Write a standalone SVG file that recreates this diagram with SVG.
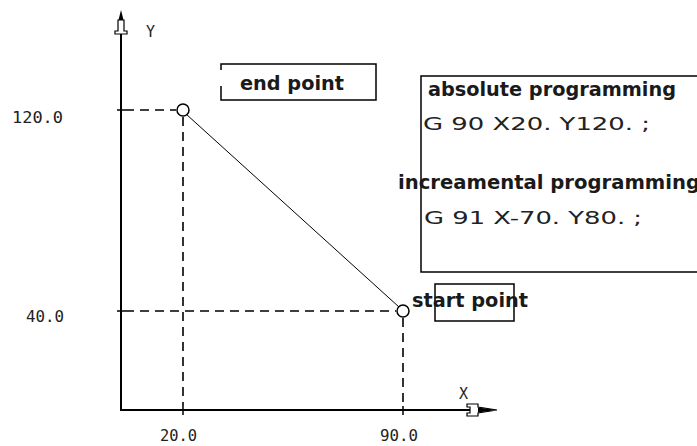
<svg xmlns="http://www.w3.org/2000/svg" width="697" height="446" viewBox="0 0 697 446">
<style>
.ax{stroke:#000;stroke-width:2;fill:none}
.dash{stroke:#000;stroke-width:1.6;fill:none;stroke-dasharray:9,6}
.box{stroke:#000;stroke-width:1.5;fill:none}
.tick{font-family:"DejaVu Sans Mono","Liberation Mono",monospace;font-size:15px;fill:#222}
.lbl{font-family:"DejaVu Sans","Open Sans",sans-serif;font-weight:bold;font-size:19px;fill:#1a1a1a}
.code{font-family:"DejaVu Sans","Liberation Sans",sans-serif;font-size:18px;fill:#222}
</style>
<rect width="697" height="446" fill="#fff"/>
<g id="axes">
  <line class="ax" x1="121" y1="22" x2="121" y2="410"/>
  <line class="ax" x1="120" y1="410" x2="470" y2="410"/>
  <path d="M121 10 L118.5 20 L123.5 20 Z" fill="#000"/>
  <path d="M118 20 L118 31 L115 31 L115 34 L127 34 L127 31 L124 31 L124 20 Z" fill="#fff" stroke="#000" stroke-width="1.2"/>
  <path d="M467 404 L478 404 L478 407 L497 410 L478 413 L478 416 L467 416 L467 413 L470 413 L470 407 L467 407 Z" fill="#fff" stroke="#000" stroke-width="1.2"/>
  <path d="M478 407.5 L497 410 L478 412.5 Z" fill="#000"/>
  <text x="146" y="37" class="tick" font-size="15">Y</text>
  <text x="459" y="399" class="tick" font-size="15">X</text>
  <line x1="117" y1="110" x2="125" y2="110" stroke="#000" stroke-width="1.5"/>
  <line x1="117" y1="311" x2="125" y2="311" stroke="#000" stroke-width="1.5"/>
  <line x1="183" y1="406" x2="183" y2="415" stroke="#000" stroke-width="1.5"/>
  <line x1="403" y1="406" x2="403" y2="415" stroke="#000" stroke-width="1.5"/>
</g>
<g id="tick-labels">
  <text x="12" y="123" class="tick" textLength="51" lengthAdjust="spacingAndGlyphs">120.0</text>
  <text x="26" y="322" class="tick" textLength="38" lengthAdjust="spacingAndGlyphs">40.0</text>
  <text x="160" y="441" class="tick" textLength="37" lengthAdjust="spacingAndGlyphs">20.0</text>
  <text x="380" y="441" class="tick" textLength="38" lengthAdjust="spacingAndGlyphs">90.0</text>
</g>
<g id="connectors">
  <line class="dash" x1="125" y1="110" x2="176" y2="110"/>
  <line class="dash" x1="183" y1="117" x2="183" y2="406"/>
  <line class="dash" x1="125" y1="311" x2="396" y2="311"/>
  <line class="dash" x1="403" y1="318" x2="403" y2="406"/>
  <line x1="186" y1="114" x2="399" y2="307" stroke="#000" stroke-width="1"/>
</g>
<g id="end-point-marker">
  <circle cx="183" cy="110" r="6" fill="none" stroke="#000" stroke-width="1.5"/>
</g>
<g id="start-point-marker">
  <circle cx="403" cy="311" r="6" fill="none" stroke="#000" stroke-width="1.5"/>
</g>
<g id="end-point">
  <path class="box" d="M221 70 L221 64 L376 64 L376 100 L221 100 L221 86"/>
  <text x="240" y="90" class="lbl" textLength="104" lengthAdjust="spacingAndGlyphs">end point</text>
</g>
<g id="program-box">
  <path class="box" d="M700 76 L421 76 L421 272 L700 272"/>
  <text x="428" y="96" class="lbl" textLength="248" lengthAdjust="spacingAndGlyphs">absolute programming</text>
  <text x="423" y="130" class="code" textLength="227" lengthAdjust="spacingAndGlyphs">G 90 X20. Y120. ;</text>
  <text x="398" y="189" class="lbl" textLength="302" lengthAdjust="spacingAndGlyphs">increamental programming</text>
  <text x="424" y="224" class="code" textLength="218" lengthAdjust="spacingAndGlyphs">G 91 X-70. Y80. ;</text>
</g>
<g id="start-point">
  <rect class="box" x="435" y="284" width="79" height="37"/>
  <text x="412" y="307" class="lbl" textLength="116" lengthAdjust="spacingAndGlyphs">start point</text>
</g>
</svg>
